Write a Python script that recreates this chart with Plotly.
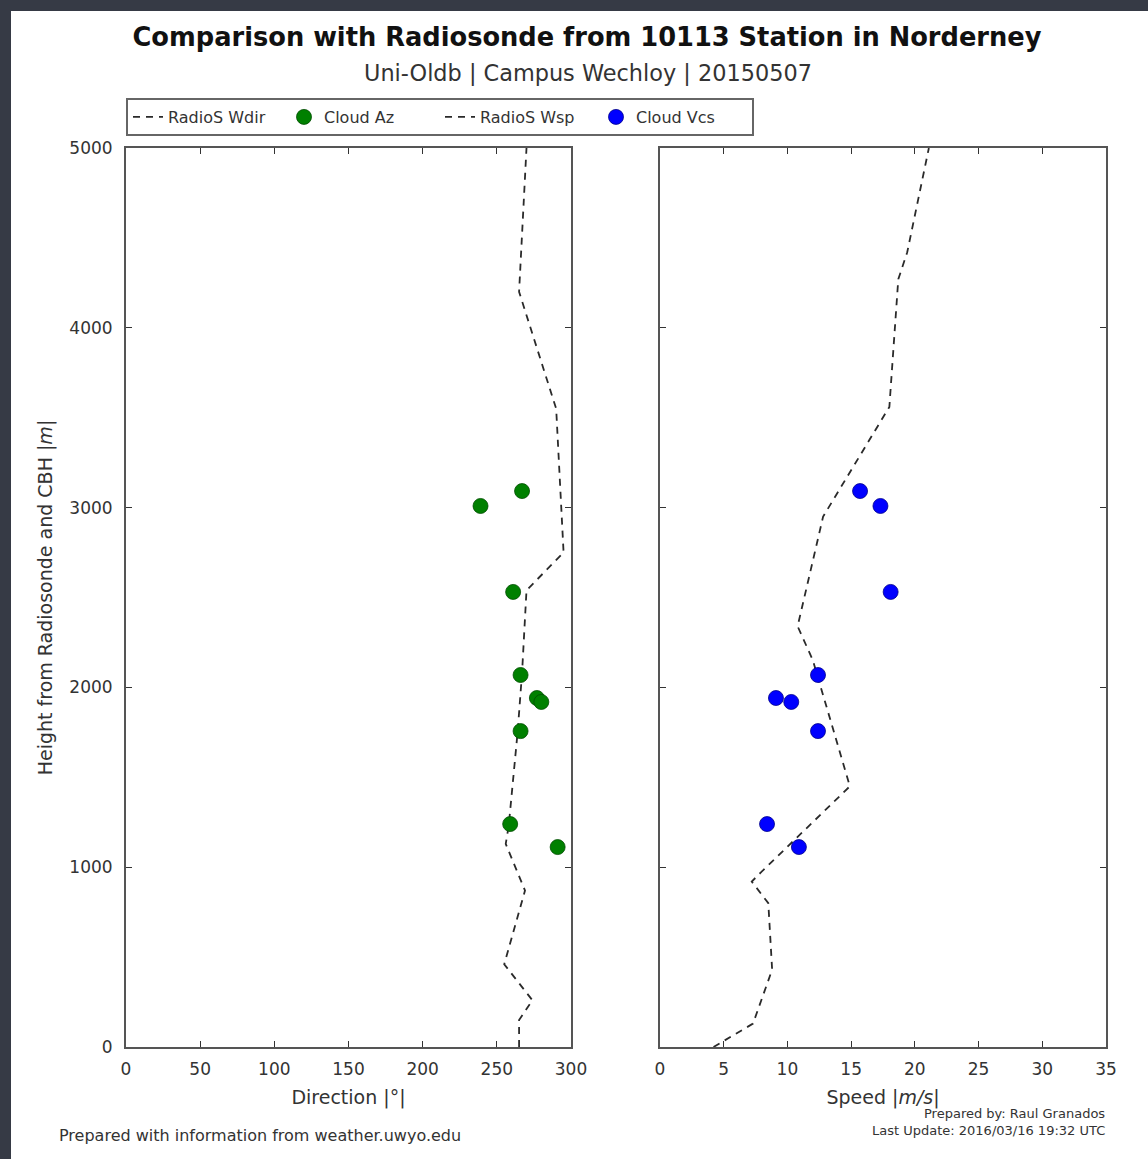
import plotly.graph_objects as go
from plotly.subplots import make_subplots

# Radiosonde wind direction profile
rs_dir_height = [0, 150, 260, 460, 870, 1130, 1230, 1750, 2080, 2540, 2750, 3550, 4200, 5000]
rs_dir = [265, 265, 274, 255, 269, 256, 258, 264, 267, 270, 295, 290, 265, 270]

# Radiosonde wind speed profile
rs_wsp_height = [0, 130, 430, 800, 920, 970, 1450, 2150, 2340, 2800, 2950, 3560, 4270, 4420, 5000]
rs_wsp = [4.2, 7.3, 8.8, 8.5, 7.2, 7.9, 14.9, 12.0, 10.8, 12.3, 12.8, 18.0, 18.7, 19.4, 21.1]

# Cloud observations (cloud base height)
cloud_height = [3092, 3009, 2531, 2069, 1941, 1919, 1757, 1240, 1112]
cloud_az = [267, 239, 261, 266, 277, 280, 266, 259, 291]
cloud_vcs = [15.7, 17.3, 18.1, 12.4, 9.1, 10.3, 12.4, 8.4, 10.9]

dir_ticks = [0, 50, 100, 150, 200, 250, 300]
spd_ticks = [0, 5, 10, 15, 20, 25, 30, 35]
h_ticks = [0, 1000, 2000, 3000, 4000, 5000]

W, H = 1148, 1159
L, R, T, B = 126, 1106, 148, 1047
FONT = "DejaVu Sans"
TXT = "#333333"

fig = make_subplots(rows=1, cols=2, shared_yaxes=False, horizontal_spacing=0.0)

fig.add_trace(go.Scatter(x=rs_dir, y=rs_dir_height, mode="lines", name="RadioS Wdir",
                         line=dict(color="#2a2a2a", width=1.8, dash="7px,6px")), row=1, col=1)
fig.add_trace(go.Scatter(x=cloud_az, y=cloud_height, mode="markers", name="Cloud Az",
                         marker=dict(color="#008000", size=15, line=dict(color="#004d00", width=0.8))), row=1, col=1)
fig.add_trace(go.Scatter(x=rs_wsp, y=rs_wsp_height, mode="lines", name="RadioS Wsp",
                         line=dict(color="#2a2a2a", width=1.8, dash="7px,6px")), row=1, col=2)
fig.add_trace(go.Scatter(x=cloud_vcs, y=cloud_height, mode="markers", name="Cloud Vcs",
                         marker=dict(color="#0000ff", size=15, line=dict(color="#00008b", width=0.8))), row=1, col=2)

pw = R - L
d1 = [0, (571 - L) / pw]
d2 = [(660 - L) / pw, 1]

axis_common = dict(showgrid=False, zeroline=False, showline=True, linecolor="#555555", linewidth=2,
                   mirror="allticks", ticks="inside", ticklen=6, tickwidth=1, tickcolor="#333333",
                   tickfont=dict(family=FONT, size=17, color=TXT))

fig.update_xaxes(axis_common)
fig.update_yaxes(axis_common)

fig.update_layout(
    xaxis=dict(domain=d1, range=[0, 300], tickvals=dir_ticks, ticklabelstandoff=6,
               title=dict(text="Direction |°|", font=dict(family=FONT, size=19, color=TXT), standoff=12)),
    xaxis2=dict(domain=d2, range=[0, 35], tickvals=spd_ticks, ticklabelstandoff=6,
                title=dict(text="Speed |<i>m/s</i>|", font=dict(family=FONT, size=19, color=TXT), standoff=12)),
    yaxis=dict(range=[0, 5000], tickvals=h_ticks, ticklabelstandoff=8,
               title=dict(text="Height from Radiosonde and CBH |<i>m</i>|",
                          font=dict(family=FONT, size=19, color=TXT), standoff=12)),
    yaxis2=dict(range=[0, 5000], tickvals=h_ticks, showticklabels=False, matches="y"),
)

fig.update_layout(
    width=W, height=H,
    margin=dict(l=L, r=W - R, t=T, b=H - B),
    paper_bgcolor="white", plot_bgcolor="white",
    font=dict(family=FONT, color=TXT),
    title=dict(text="<b>Comparison with Radiosonde from 10113 Station in Norderney</b>",
               x=587 / W, xanchor="center", y=1 - 37 / H, yanchor="middle",
               font=dict(family=FONT, size=25.7, color="#111111")),
    showlegend=True,
    legend=dict(orientation="h", x=0, xanchor="left", y=1 + (T - 98) / (B - T), yanchor="top",
                bordercolor="#666666", borderwidth=2, bgcolor="white",
                font=dict(family=FONT, size=16, color=TXT), itemwidth=30,
                entrywidth=111, entrywidthmode="pixels"),
)

def px_x(p):
    return (p - L) / pw

def px_y(p):
    return (B - p) / (B - T)

annotations = [
    dict(text="Uni-Oldb | Campus Wechloy | 20150507", x=px_x(588), y=px_y(73), xref="paper", yref="paper",
         showarrow=False, xanchor="center", yanchor="middle", font=dict(family=FONT, size=22.4, color=TXT)),
    dict(text="Prepared with information from weather.uwyo.edu", x=px_x(57), y=px_y(1135), xref="paper",
         yref="paper", showarrow=False, xanchor="left", yanchor="middle", font=dict(family=FONT, size=16, color=TXT)),
    dict(text="Prepared by: Raul Granados", x=px_x(1107), y=px_y(1113), xref="paper", yref="paper",
         showarrow=False, xanchor="right", yanchor="middle", font=dict(family=FONT, size=13, color=TXT)),
    dict(text="Last Update: 2016/03/16 19:32 UTC", x=px_x(1107), y=px_y(1130), xref="paper", yref="paper",
         showarrow=False, xanchor="right", yanchor="middle", font=dict(family=FONT, size=13, color=TXT)),
]
fig.update_layout(annotations=annotations)

# dark frame strips (left and top)
DARK = "#363a45"
fig.add_shape(type="rect", xref="paper", yref="paper", x0=px_x(0), x1=px_x(11), y0=px_y(H + 5), y1=px_y(-5),
              fillcolor=DARK, line=dict(width=0), layer="below")
fig.add_shape(type="rect", xref="paper", yref="paper", x0=px_x(0), x1=px_x(W + 5), y0=px_y(11), y1=px_y(-5),
              fillcolor=DARK, line=dict(width=0), layer="below")

fig.write_html("out.html")
